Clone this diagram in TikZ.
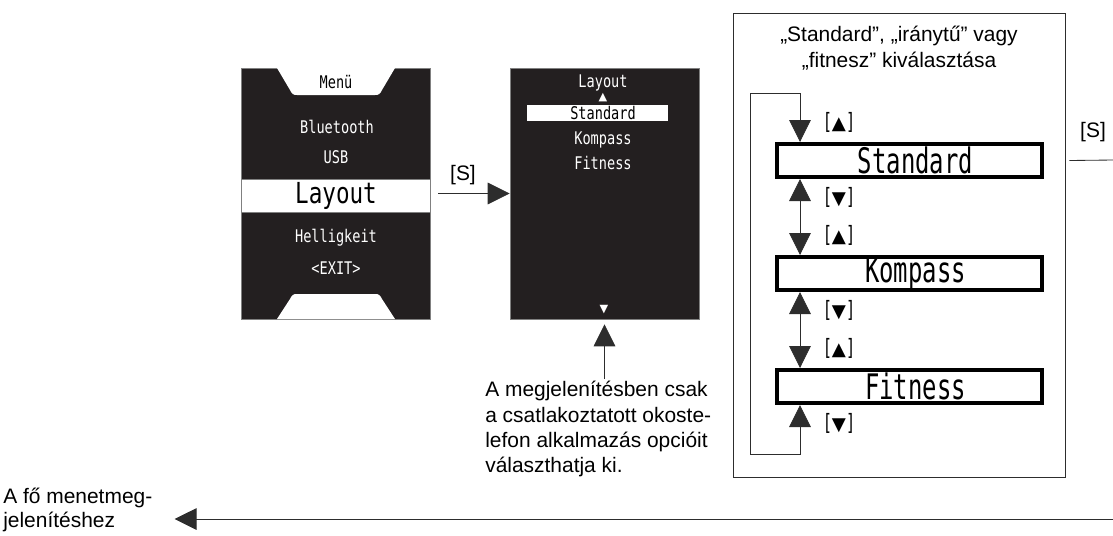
\documentclass[tikz,border=0pt]{standalone}
\usepackage{fontspec}
\setmainfont{Liberation Sans}
\newfontfamily\lcd[FakeStretch=0.78]{DejaVu Sans Mono}
\newfontfamily\lcdn[FakeStretch=0.68]{DejaVu Sans Mono}
\newfontfamily\sym{DejaVu Sans}
\usetikzlibrary{arrows.meta,positioning}
\definecolor{scr}{RGB}{35,31,32}
\definecolor{ln}{RGB}{45,45,45}
\newcommand{\symup}{{\sym\fontsize{8pt}{8pt}\selectfont ▲}}
\newcommand{\symdn}{{\sym\fontsize{8pt}{8pt}\selectfont ▼}}
\newcommand{\keyup}{{\sym\fontsize{13pt}{13pt}\selectfont ▲}}
\newcommand{\keydn}{{\sym\fontsize{13pt}{13pt}\selectfont ▼}}

\begin{document}
\begin{tikzpicture}[x=0.25mm,y=-0.25mm,>={Triangle[width=5.4mm,length=5.5mm]},
  screen/.style={fill=scr,draw=gray,inner sep=0,minimum width=47.25mm,minimum height=62.75mm},
  lcdw/.style={text=white,inner sep=0,font=\lcd\fontsize{12.4pt}{13pt}\selectfont},
  lcdb/.style={inner sep=0,font=\lcd\fontsize{20.6pt}{22pt}\selectfont},
  frame/.style={draw,line width=1mm,fill=white,inner sep=0,minimum width=66.25mm,minimum height=8.25mm,font=\lcdn\fontsize{25pt}{25pt}\selectfont},
  key/.style={inner sep=0,font=\lcdn\fontsize{16pt}{16pt}\selectfont},
  txt/.style={inner sep=0,align=left,font=\fontsize{14.9pt}{18pt}\selectfont},
  conn/.style={draw=ln,line width=0.6pt}]
  \useasboundingbox (0,0) rectangle (1113,535);

  \node[screen] (menu) at (335.5,193.5) {};
  \fill[white] (277,68) -- (290,90) .. controls (292,94) and (293,95) .. (297,95) -- (375,95)
    .. controls (379,95) and (380,94) .. (382,90) -- (395,68) -- cycle;
  \fill[white] (277,319) -- (290,299) .. controls (292,295) and (293,294) .. (297,294) -- (375,294)
    .. controls (379,294) and (380,295) .. (382,299) -- (395,319) -- cycle;
  \filldraw[fill=white,draw=gray] (241,179) rectangle (430,212);
  \node[lcdw,text=black] (mmenu) at (336,82) {Menü};
  \node[lcdw] (mbt) at (337,127) {Bluetooth};
  \node[lcdw] (musb) at (336,157) {USB};
  \node[lcdb] (mlay) at (336,196) {Layout};
  \node[lcdw] (mhell) at (336,238) {Helligkeit};
  \node[lcdw] (mexit) at (336,268) {<EXIT>};

  \node[screen] (lay) at (604.5,193.5) {};
  \fill[white] (527,105) rectangle (668,121);
  \node[lcdw] (ltitle) at (603,83) {Layout};
  \node[text=white,inner sep=0] (lup) at (603,98) {\symup};
  \node[lcdw,text=black] (lstd) at (603,113) {Standard};
  \node[lcdw] (lkomp) at (603,140) {Kompass};
  \node[lcdw] (lfit) at (603,163) {Fitness};
  \node[text=white,inner sep=0] (ldn) at (604,310) {\symdn};

  \node[txt] (sL) at (463,175) {[S]};
  \draw[conn,->] ([xshift=2mm]menu.east) -- (lay.west);

  \node[txt,anchor=north west] (note) at (485,381) {A megjelenítésben csak\\a csatlakoztatott okoste-\\lefon alkalmazás opcióit\\választhatja ki.};
  \draw[conn,->] ([yshift=0.5mm]note.north -| lay.south) -- ([yshift=-1.25mm]lay.south);

  \node[draw=ln,line width=0.6pt,inner sep=0,minimum width=83mm,minimum height=116mm] (selbox) at (899,245) {};
  \node[txt,align=center] (title) at (899,48) {„Standard”, „iránytű” vagy\\„fitnesz” kiválasztása};

  \node[frame] (std) at (909.5,160.5) {\hspace*{3mm}Standard};
  \node[frame] (komp) at (909.5,273.5) {\hspace*{3mm}Kompass};
  \node[frame] (fit) at (909.5,386.5) {\hspace*{3mm}Fitness};
  \coordinate (lpT) at (750,93);
  \coordinate (lpB) at (750,454);
  \draw[conn,<->] ([xshift=6.25mm]std.north west) |- (lpT) -- (lpB) -| ([xshift=6.25mm]fit.south west);
  \draw[conn,<->] ([xshift=6.25mm]std.south west) -- ([xshift=6.25mm]komp.north west);
  \draw[conn,<->] ([xshift=6.25mm]komp.south west) -- ([xshift=6.25mm]fit.north west);
  \foreach \y/\s [count=\i] in {122/\keyup,197/\keydn,235/\keyup,310/\keydn,348/\keyup,423/\keydn}
    \node[key] (k\i) at (839,\y) {[\s]};

  \node[txt] (sR) at (1093,132) {[S]};
  \coordinate (outR) at (1113,160);
  \draw[conn] ([xshift=1mm]selbox.east |- std.east) -- (outR);

  \node[txt,anchor=west,font=\fontsize{14.9pt}{17pt}\selectfont] (back) at (3,510) {A fő menetmeg-\\jelenítéshez};
  \coordinate (outB) at (1113,519);
  \draw[conn,->] (outB) -- ([xshift=5.5mm]back.east |- outB);
\end{tikzpicture}
\end{document}
